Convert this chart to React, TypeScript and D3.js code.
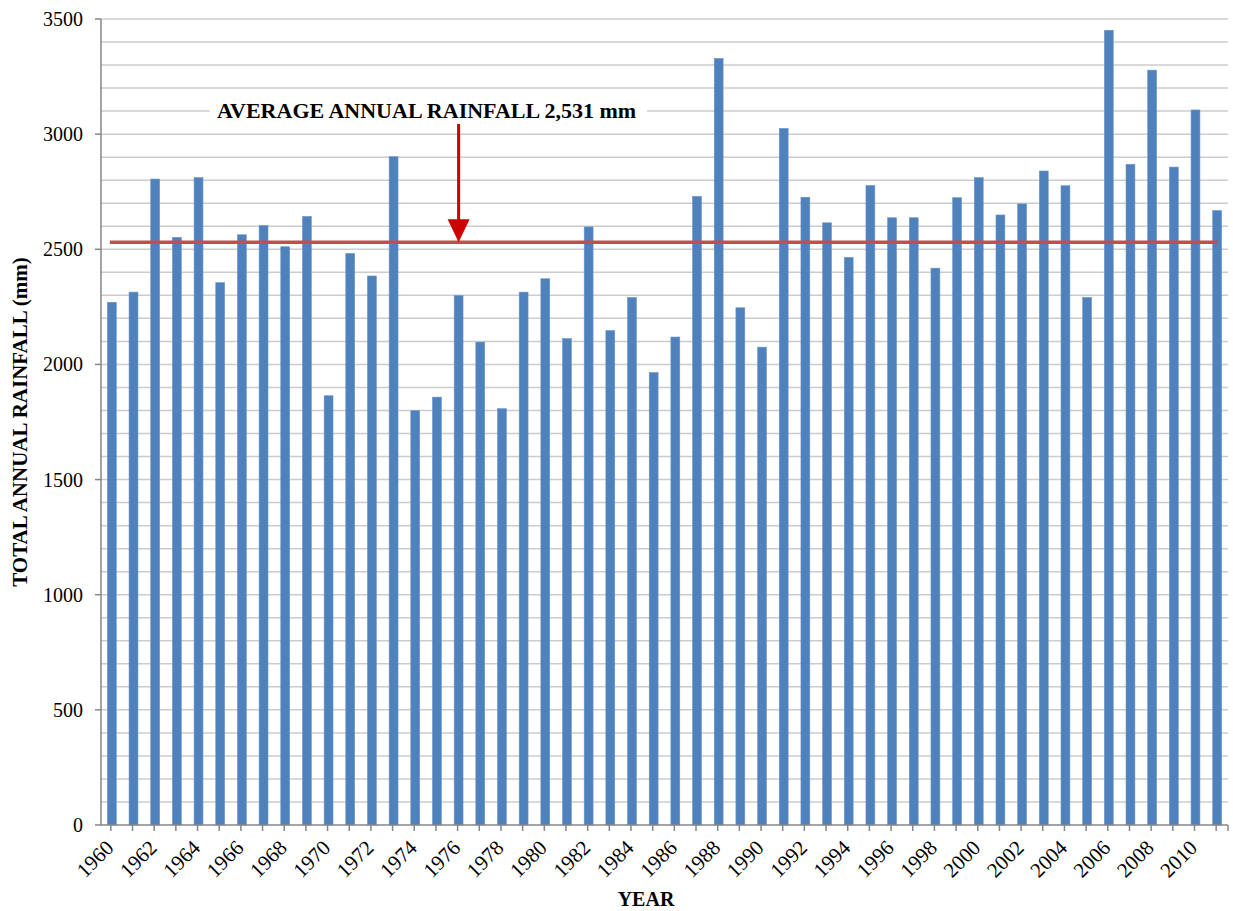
import * as d3 from 'd3';

// annual totals
const years = [
  1960, 1961, 1962, 1963, 1964, 1965, 1966, 1967, 1968, 1969,
  1970, 1971, 1972, 1973, 1974, 1975, 1976, 1977, 1978, 1979,
  1980, 1981, 1982, 1983, 1984, 1985, 1986, 1987, 1988, 1989,
  1990, 1991, 1992, 1993, 1994, 1995, 1996, 1997, 1998, 1999,
  2000, 2001, 2002, 2003, 2004, 2005, 2006, 2007, 2008, 2009,
  2010, 2011,
];
const rainfall = [
  2270, 2314, 2805, 2552, 2811, 2355, 2563, 2603, 2511, 2643,
  1864, 2482, 2384, 2902, 1799, 1858, 2299, 2097, 1808, 2314,
  2372, 2112, 2597, 2147, 2291, 1965, 2119, 2730, 3329, 2246,
  2075, 3025, 2726, 2615, 2465, 2777, 2637, 2637, 2418, 2724,
  2811, 2649, 2697, 2840, 2776, 2291, 3451, 2869, 3278, 2857,
  3105, 2668,
];
const average = 2531;
const arrowYear = 1976;
const yTicks = [0, 500, 1000, 1500, 2000, 2500, 3000, 3500];
const labelYears = years.filter((yr) => yr % 2 === 0);

const width = 1233;
const height = 911;
const margin = { top: 19, right: 5, bottom: 86, left: 101 };
const font = '"Liberation Serif", "Times New Roman", serif';

export default function App() {
  const x = d3
    .scaleBand<number>()
    .domain(years)
    .range([margin.left, width - margin.right])
    .paddingInner(0.59)
    .paddingOuter(0.295);

  const y = d3
    .scaleLinear()
    .domain([0, 3500])
    .range([height - margin.bottom, margin.top]);

  const cx = (yr: number) => (x(yr) ?? 0) + x.bandwidth() / 2;
  const grid = d3.range(100, 3501, 100);
  const x0 = margin.left;
  const x1 = width - margin.right;
  const yBase = y(0);

  const ax = cx(arrowYear);
  const tipY = y(average);

  return (
    <div style={{ position: 'absolute', left: 0, top: 0 }}>
      <svg width={width} height={height} style={{ display: 'block', background: '#fff' }}>
        {/* gridlines */}
        {grid.map((v) => (
          <line key={v} x1={x0} x2={x1} y1={y(v)} y2={y(v)} stroke="#cccccc" strokeWidth={1.5} />
        ))}

        {/* bars */}
        {years.map((yr, i) => (
          <rect
            key={yr}
            x={x(yr)}
            y={y(rainfall[i])}
            width={x.bandwidth()}
            height={yBase - y(rainfall[i])}
            fill="#4f81bd"
            stroke="#6a95c9"
            strokeWidth={0.6}
          />
        ))}

        {/* axes */}
        <line x1={x0} x2={x0} y1={y(3500)} y2={yBase} stroke="#868686" strokeWidth={1.5} />
        <line x1={x0} x2={x1} y1={yBase} y2={yBase} stroke="#868686" strokeWidth={1.5} />
        {yTicks.map((v) => (
          <g key={v}>
            <line x1={x0 - 6} x2={x0} y1={y(v)} y2={y(v)} stroke="#868686" strokeWidth={1.5} />
            <text
              x={83}
              y={y(v)}
              dy="0.35em"
              textAnchor="end"
              fontFamily={font}
              fontSize={20}
              fill="#000"
            >
              {v}
            </text>
          </g>
        ))}
        {years.map((yr) => (
          <line key={yr} x1={cx(yr) - 1} x2={cx(yr) - 1} y1={yBase} y2={yBase + 6} stroke="#868686" strokeWidth={1.5} />
        ))}
        <line x1={x1} x2={x1} y1={yBase} y2={yBase + 6} stroke="#868686" strokeWidth={1.5} />
        {labelYears.map((yr) => (
          <text
            key={yr}
            transform={`translate(${cx(yr) + 3},${yBase + 24}) rotate(-45)`}
            textAnchor="end"
            fontFamily={font}
            fontSize={21}
            fill="#000"
          >
            {yr}
          </text>
        ))}

        {/* average line */}
        <line
          x1={cx(years[0]) - 2}
          x2={cx(years[years.length - 1])}
          y1={tipY}
          y2={tipY}
          stroke="#c0504d"
          strokeWidth={3.5}
        />

        {/* annotation */}
        <rect x={210} y={100} width={437} height={24} fill="#fff" />
        <text x={217} y={118} fontFamily={font} fontWeight="bold" fontSize={22} fill="#000">
          AVERAGE ANNUAL RAINFALL 2,531 mm
        </text>
        <line x1={ax} x2={ax} y1={124} y2={tipY - 20} stroke="#cc0000" strokeWidth={3} />
        <path d={`M${ax - 11},${tipY - 23} L${ax + 11},${tipY - 23} L${ax},${tipY} Z`} fill="#cc0000" />

        {/* axis titles */}
        <text
          transform={`translate(27,${(y(0) + y(3500)) / 2}) rotate(-90)`}
          textAnchor="middle"
          fontFamily={font}
          fontWeight="bold"
          fontSize={21}
          fill="#000"
        >
          TOTAL ANNUAL RAINFALL (mm)
        </text>
        <text x={646} y={906} textAnchor="middle" fontFamily={font} fontWeight="bold" fontSize={20} fill="#000">
          YEAR
        </text>
      </svg>
    </div>
  );
}
